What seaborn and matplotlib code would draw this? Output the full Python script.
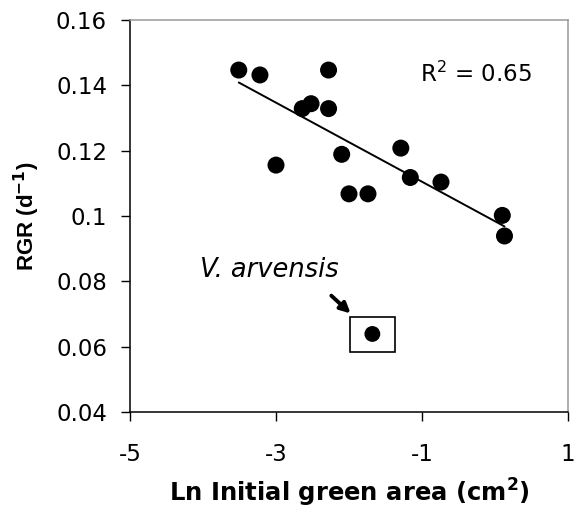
import pandas as pd
import matplotlib.pyplot as plt
import seaborn as sns
from matplotlib.patches import Rectangle

# Data
ln_area = [-3.51, -3.22, -2.28, -2.64, -2.52, -2.28, -3.00, -2.10,
           -1.29, -1.16, -0.74, -2.00, -1.74, 0.10, 0.13]
rgr = [0.1447, 0.1432, 0.1447, 0.1329, 0.1344, 0.1329, 0.1156, 0.1189,
       0.1208, 0.1118, 0.1104, 0.1068, 0.1068, 0.1002, 0.0939]
outlier_x = [-1.68]
outlier_y = [0.0639]
y_ticks = [0.04, 0.06, 0.08, 0.10, 0.12, 0.14, 0.16]
y_tick_labels = ["0.04", "0.06", "0.08", "0.1", "0.12", "0.14", "0.16"]
x_ticks = [-5, -3, -1, 1]

df = pd.DataFrame({"x": ln_area, "y": rgr})
df_out = pd.DataFrame({"x": outlier_x, "y": outlier_y})

sns.set_style("white")
plt.rcParams["font.family"] = ["DejaVu Sans"]
plt.rcParams["text.color"] = "black"
plt.rcParams["axes.labelcolor"] = "black"

fig = plt.figure(figsize=(5.76, 5.11), dpi=100)
ax = fig.add_axes([0.2257, 0.1937, 0.7604, 0.767])

# regression line fitted without the outlier
sns.regplot(data=df, x="x", y="y", scatter=False, ci=None, ax=ax,
            line_kws={"color": "black", "lw": 1.4})
sns.scatterplot(data=df, x="x", y="y", ax=ax, color="black", s=150,
                edgecolor="none")
sns.scatterplot(data=df_out, x="x", y="y", ax=ax, color="black", s=130,
                edgecolor="none")

# box round V. arvensis
ax.add_patch(Rectangle((-1.985, 0.0585), 0.618, 0.0105, fill=False,
                       edgecolor="black", lw=1.2))
ax.annotate("", xy=(-1.95, 0.0696), xytext=(-2.27, 0.0762),
            arrowprops=dict(arrowstyle="-|>", color="black", lw=2.8,
                            mutation_scale=15))
ax.text(-4.04, 0.0814, "V. arvensis", fontsize=18.5, style="italic",
        va="baseline", ha="left", color="black")
ax.text(-1.03, 0.1412, "R$^2$ = 0.65", fontsize=16.5, va="baseline",
        ha="left", color="black")

ax.set_xlim(-5, 1)
ax.set_ylim(0.04, 0.16)
ax.set_xticks(x_ticks)
ax.set_xticklabels([str(v) for v in x_ticks])
ax.set_yticks(y_ticks)
ax.set_yticklabels(y_tick_labels)
ax.tick_params(axis="both", direction="out", length=6.5, width=1,
               colors="black", labelsize=16.5, bottom=True, left=True)
ax.tick_params(axis="y", pad=10)
ax.tick_params(axis="x", pad=15.5)

for side in ["left", "bottom"]:
    ax.spines[side].set_color("black")
    ax.spines[side].set_linewidth(1.1)
for side in ["top", "right"]:
    ax.spines[side].set_color("#999999")
    ax.spines[side].set_linewidth(1.1)

ax.set_xlabel("Ln Initial green area (cm$^\\mathbf{2}$)", fontsize=17.5,
              fontweight="bold", labelpad=8)
ax.set_ylabel("RGR (d$^\\mathbf{-1}$)", fontsize=16, fontweight="bold",
              family=["Liberation Sans", "DejaVu Sans"])
ax.yaxis.set_label_coords(-0.2, 0.5)

fig.savefig("out.png", dpi=100)
plt.close()
